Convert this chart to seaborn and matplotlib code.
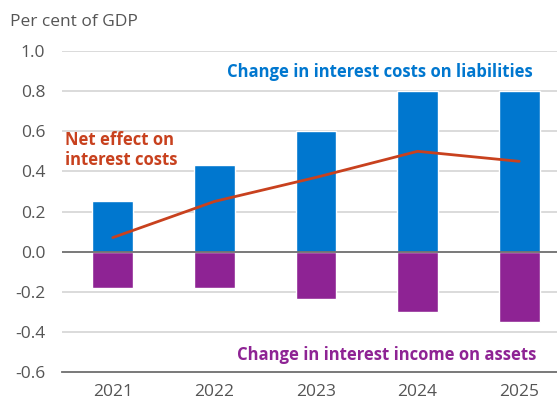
import numpy as np
import pandas as pd
import matplotlib
matplotlib.use("Agg")
import matplotlib.pyplot as plt
import seaborn as sns

# Data (per cent of GDP)
years = ["2021", "2022", "2023", "2024", "2025"]
liabilities_cost = [0.25, 0.43, 0.60, 0.80, 0.80]
assets_income = [-0.18, -0.18, -0.235, -0.30, -0.35]
net_effect = [0.07, 0.25, 0.37, 0.50, 0.45]
yticks = [-0.6, -0.4, -0.2, 0.0, 0.2, 0.4, 0.6, 0.8, 1.0]

BLUE = "#0077CF"
PURPLE = "#8E2394"
RED = "#C8411E"
GRID = "#D4D4D4"
AXIS = "#6E6E6E"
TEXT = "#555555"
W, H = 557, 401

sns.set_theme(style="white")
plt.rcParams["font.family"] = ["Open Sans", "DejaVu Sans"]

df = pd.DataFrame({"year": years, "liab": liabilities_cost,
                   "assets": assets_income, "net": net_effect})

fig = plt.figure(figsize=(W / 100, H / 100), dpi=100)
ax = fig.add_axes([62 / W, 29 / H, 508 / W, 321 / H])

sns.barplot(data=df, x="year", y="liab", color=BLUE, width=0.4,
            saturation=1, ax=ax, zorder=3)
sns.barplot(data=df, x="year", y="assets", color=PURPLE, width=0.4,
            saturation=1, ax=ax, zorder=3)
sns.lineplot(x=np.arange(len(years)), y=df["net"], color=RED, linewidth=2,
             ax=ax, zorder=4)

ax.set_xlim(-0.5, len(years) - 0.5)
ax.set_ylim(-0.6, 1.0)
ax.set_yticks(yticks)
ax.set_yticklabels([f"{v:.1f}" for v in yticks])

# Horizontal gridlines, with a darker zero line drawn over the bars
for v in yticks[1:]:
    if v == 0:
        ax.axhline(v, color=AXIS, linewidth=1.3, zorder=3.5)
    else:
        ax.axhline(v, color=GRID, linewidth=1.2, zorder=2)

for s in ["top", "right", "left"]:
    ax.spines[s].set_visible(False)
ax.spines["bottom"].set_color(AXIS)
ax.spines["bottom"].set_linewidth(1.3)

ax.set_xticks(np.arange(len(years)))
ax.set_xticklabels(years)
ax.set_xticks(np.arange(-0.5, len(years), 1.0), minor=True)
ax.tick_params(axis="x", which="major", length=0, pad=9, labelsize=12.5,
               labelcolor=TEXT)
ax.tick_params(axis="x", which="minor", length=6, width=1.3, color=AXIS,
               direction="out")
ax.tick_params(axis="y", length=0, pad=12, labelsize=12.5, labelcolor=TEXT)
ax.set_xlabel("")
ax.set_ylabel("")

fig.text(10 / W, 1 - 22 / H, "Per cent of GDP", fontsize=12.5, color=TEXT,
         va="center", ha="left")

fig.text(227 / W, 1 - 72 / H, "Change in interest costs on liabilities",
         fontsize=12, fontweight="bold", color=BLUE, va="center", ha="left")
fig.text(65 / W, 1 - 150 / H, "Net effect on\ninterest costs",
         fontsize=12, fontweight="bold", color=RED, va="center", ha="left",
         linespacing=1.2)
fig.text(237 / W, 1 - 355 / H, "Change in interest income on assets",
         fontsize=12, fontweight="bold", color=PURPLE, va="center", ha="left")

fig.savefig("out.png", dpi=100)
